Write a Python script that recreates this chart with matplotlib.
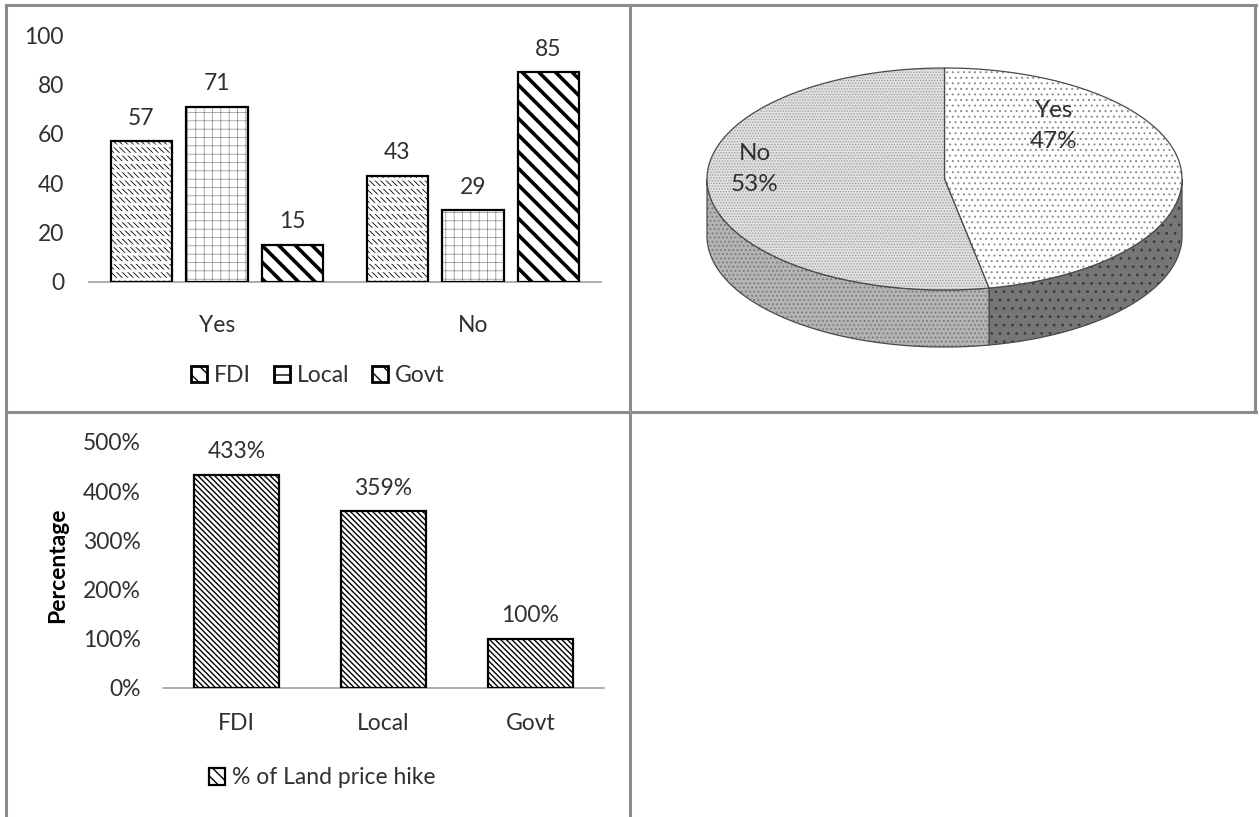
import matplotlib.pyplot as plt
import numpy as np
from matplotlib.lines import Line2D
from matplotlib.patches import Patch, Polygon

plt.rcParams["font.family"] = ["Lato", "DejaVu Sans"]
plt.rcParams["font.size"] = 16.5

W, H = 1259, 817
TEXT = "#303030"
GRID = "#8c8c8c"

# answers split by ownership type
answers = ["Yes", "No"]
owners = ["FDI", "Local", "Govt"]
fdi_counts = [57, 43]
local_counts = [71, 29]
govt_counts = [15, 85]

# overall answer split
pie_labels = ["Yes", "No"]
pie_shares = [47, 53]

# land price hike by ownership type
hike_pct = [433, 359, 100]
hike_legend = "% of Land price hike"


def px_axes(fig, left, top, right, bottom):
    return fig.add_axes([left / W, 1 - bottom / H, (right - left) / W, (bottom - top) / H])


def set_hatch_lw(patches, lw):
    for p in patches:
        if hasattr(p, "set_hatch_linewidth"):
            p.set_hatch_linewidth(lw)


def hatched_bars(ax, x, heights, width, hatch, hatch_color, hatch_lw, rows=None):
    with plt.rc_context({"hatch.linewidth": hatch_lw}):
        base = ax.bar(x, heights, width, color="white", edgecolor=hatch_color, linewidth=0, hatch=hatch, zorder=2)
    set_hatch_lw(base, hatch_lw)
    if rows:
        # white horizontal breaks turn the stripes into short strokes
        with plt.rc_context({"hatch.linewidth": 2.0}):
            gaps = ax.bar(x, heights, width, fill=False, edgecolor="white", linewidth=0, hatch=rows, zorder=3)
        set_hatch_lw(gaps, 2.0)
    return ax.bar(x, heights, width, fill=False, edgecolor="black", linewidth=1.6, zorder=4)


def style_axes(ax, pad, xpad):
    for side in ["top", "right", "left"]:
        ax.spines[side].set_visible(False)
    ax.spines["bottom"].set_color("#a0a0a0")
    ax.spines["bottom"].set_linewidth(1.2)
    ax.tick_params(axis="y", length=0, pad=pad, colors=TEXT)
    ax.tick_params(axis="x", length=0, pad=xpad, colors=TEXT)


fig = plt.figure(figsize=(W / 100, H / 100), dpi=100)

# cell borders
for xs, ys in [
    ([6, 1256], [5, 5]),
    ([6, 1256], [412, 412]),
    ([6, 6], [5, 817]),
    ([630, 630], [5, 817]),
    ([1255, 1255], [5, 412]),
]:
    fig.add_artist(Line2D([x / W for x in xs], [1 - y / H for y in ys], color=GRID, linewidth=2.2))

# grouped bars
ax1 = px_axes(fig, 89, 35, 601, 282)
xpos = np.arange(len(answers))
bw, off = 0.242, 0.295
styles = [
    ("\\" * 6, "black", 0.6, "--"),
    ("++", "#8a8a8a", 0.5, None),
    ("\\\\", "black", 2.6, None),
]
series = [fdi_counts, local_counts, govt_counts]
handles = []
for i, (vals, (hatch, hc, hlw, rows)) in enumerate(zip(series, styles)):
    bars = hatched_bars(ax1, xpos + (i - 1) * off, vals, bw, hatch, hc, hlw, rows)
    ax1.bar_label(bars, padding=9, color=TEXT)
    icon_hatch = "\\\\" if i != 1 else "+"
    with plt.rc_context({"hatch.linewidth": 1.0}):
        handles.append(Patch(facecolor="white", edgecolor="black", hatch=icon_hatch, linewidth=2.0,
                             label=owners[i]))
ax1.set_ylim(0, 100)
ax1.set_xlim(-0.5, len(answers) - 0.5)
ax1.set_yticks(range(0, 101, 20))
ax1.set_xticks(xpos, answers)
style_axes(ax1, 18, 24)
fig.legend(handles=handles, loc="center", bbox_to_anchor=(318 / W, 1 - 376 / H), ncol=3, frameon=False,
           handlelength=0.7, handleheight=0.7, handletextpad=0.3, columnspacing=1.0, labelcolor=TEXT)

# 3D-looking pie
ax2 = px_axes(fig, 632, 8, 1254, 410)
ax2.set_xlim(632, 1254)
ax2.set_ylim(410, 8)
ax2.axis("off")
cx, cy, rx, ry, depth = 944.5, 179, 237.5, 111, 57


def rim(t0, t1, n=150):
    t = np.radians(np.linspace(t0, t1, n))
    return np.column_stack([cx + rx * np.sin(t), cy - ry * np.cos(t)])


bounds = np.concatenate([[0], np.cumsum(pie_shares)]) / sum(pie_shares) * 360
top_face = ["white", "#e2e2e2"]
top_dots = ["#8a8a8a", "#a0a0a0"]
side_face = ["#767676", "#b4b4b4"]
side_dots = ["#3c3c3c", "#7a7a7a"]
top_hatch = ["...", "......"]
side_hatch = ["..", "...."]
edge = "#4a4a4a"

for i in range(len(pie_shares)):
    lo, hi = max(bounds[i], 90), min(bounds[i + 1], 270)
    if lo < hi:
        upper = rim(lo, hi)
        lower = upper[::-1] + [0, depth]
        pts = np.vstack([upper, lower])
        ax2.add_patch(Polygon(pts, facecolor=side_face[i], edgecolor="none"))
        with plt.rc_context({"hatch.linewidth": 0.8}):
            p = Polygon(pts, fill=False, edgecolor=side_dots[i], hatch=side_hatch[i], linewidth=0)
        ax2.add_patch(p)
        ax2.add_patch(Polygon(pts, fill=False, edgecolor=edge, linewidth=0.9))

for i in range(len(pie_shares)):
    pts = np.vstack([[cx, cy], rim(bounds[i], bounds[i + 1])])
    ax2.add_patch(Polygon(pts, facecolor=top_face[i], edgecolor="none"))
    with plt.rc_context({"hatch.linewidth": 0.7}):
        p = Polygon(pts, fill=False, edgecolor=top_dots[i], hatch=top_hatch[i], linewidth=0)
    ax2.add_patch(p)
    ax2.add_patch(Polygon(pts, fill=False, edgecolor=edge, linewidth=0.9))

label_pos = [(1054, 126), (755, 169)]
for (lx, ly), name, share in zip(label_pos, pie_labels, pie_shares):
    ax2.text(lx, ly, f"{name}\n{share}%", ha="center", va="center", color=TEXT, linespacing=1.55,
             fontsize=17.5)

# land price hike
ax3 = px_axes(fig, 163, 442, 604, 688)
xh = np.arange(len(owners))
bars = hatched_bars(ax3, xh, hike_pct, 0.578, "\\" * 6, "black", 1.0)
ax3.bar_label(bars, labels=[f"{v}%" for v in hike_pct], padding=9, color=TEXT)
ax3.set_ylim(0, 500)
ax3.set_xlim(-0.5, len(owners) - 0.5)
ax3.set_yticks(range(0, 501, 100), [f"{v}%" for v in range(0, 501, 100)])
ax3.set_xticks(xh, owners)
ax3.set_ylabel("Percentage", fontweight="bold", color="black", labelpad=11)
style_axes(ax3, 16, 18)
with plt.rc_context({"hatch.linewidth": 1.6}):
    hike_handle = Patch(facecolor="white", edgecolor="black", hatch="\\\\\\", linewidth=1.6, label=hike_legend)
fig.legend(handles=[hike_handle], loc="center", bbox_to_anchor=(322 / W, 1 - 778 / H), frameon=False,
           handlelength=0.7, handleheight=0.7, handletextpad=0.3, labelcolor=TEXT)

fig.savefig("out.png", dpi=100)
